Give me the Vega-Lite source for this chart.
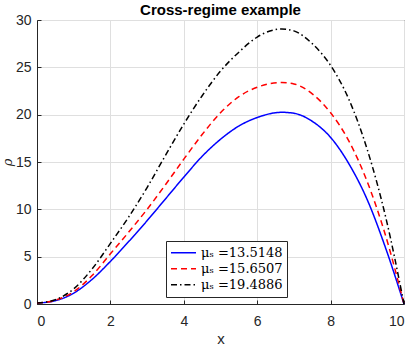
{
  "$schema": "https://vega.github.io/schema/vega-lite/v6.json",
  "width": 367,
  "height": 284,
  "autosize": {"type": "none"},
  "padding": {"left": 37, "top": 20, "right": 8, "bottom": 41},
  "background": "white",
  "title": {"text": "Cross-regime example", "font": "Liberation Sans", "fontSize": 15, "fontWeight": "bold", "color": "#000000", "offset": 5, "dy": 10, "anchor": "middle"},
  "config": {
    "view": {"stroke": "#262626", "strokeWidth": 1},
    "axis": {
      "labelFont": "Liberation Sans", "labelFontSize": 14, "labelColor": "#262626",
      "domainColor": "#262626", "tickColor": "#262626", "tickSize": -4,
      "gridColor": "#dfdfdf", "gridWidth": 1,
      "titleFont": "Liberation Sans", "titleFontSize": 15, "titleFontWeight": "normal", "titleColor": "#262626"
    },
    "legend": {
      "orient": "none", "legendX": 129, "legendY": 221,
      "fillColor": "white", "strokeColor": "#262626", "padding": 4,
      "labelFont": "DejaVu Serif", "labelFontSize": 13, "labelColor": "#000000",
      "symbolType": "stroke", "symbolSize": 625, "symbolStrokeWidth": 1.5, "rowPadding": 0,
      "clipHeight": 15.5,
      "title": null
    }
  },
  "data": {"values": [
    {"x": 0, "y": 0.1, "s": "μₛ =13.5148"},
    {"x": 0.5, "y": 0.35, "s": "μₛ =13.5148"},
    {"x": 1, "y": 1.15, "s": "μₛ =13.5148"},
    {"x": 1.5, "y": 2.6, "s": "μₛ =13.5148"},
    {"x": 2, "y": 4.5, "s": "μₛ =13.5148"},
    {"x": 2.5, "y": 6.6, "s": "μₛ =13.5148"},
    {"x": 3, "y": 8.8, "s": "μₛ =13.5148"},
    {"x": 3.5, "y": 11.1, "s": "μₛ =13.5148"},
    {"x": 4, "y": 13.4, "s": "μₛ =13.5148"},
    {"x": 4.5, "y": 15.6, "s": "μₛ =13.5148"},
    {"x": 5, "y": 17.4, "s": "μₛ =13.5148"},
    {"x": 5.5, "y": 18.8, "s": "μₛ =13.5148"},
    {"x": 6, "y": 19.7, "s": "μₛ =13.5148"},
    {"x": 6.67, "y": 20.25, "s": "μₛ =13.5148"},
    {"x": 7, "y": 20.15, "s": "μₛ =13.5148"},
    {"x": 7.5, "y": 19.3, "s": "μₛ =13.5148"},
    {"x": 8, "y": 17.6, "s": "μₛ =13.5148"},
    {"x": 8.5, "y": 14.8, "s": "μₛ =13.5148"},
    {"x": 9, "y": 11.0, "s": "μₛ =13.5148"},
    {"x": 9.5, "y": 5.9, "s": "μₛ =13.5148"},
    {"x": 10, "y": 0, "s": "μₛ =13.5148"},
    {"x": 0, "y": 0.1, "s": "μₛ =15.6507"},
    {"x": 0.5, "y": 0.4, "s": "μₛ =15.6507"},
    {"x": 1, "y": 1.3, "s": "μₛ =15.6507"},
    {"x": 1.5, "y": 3.0, "s": "μₛ =15.6507"},
    {"x": 2, "y": 5.3, "s": "μₛ =15.6507"},
    {"x": 2.5, "y": 7.6, "s": "μₛ =15.6507"},
    {"x": 3, "y": 10.0, "s": "μₛ =15.6507"},
    {"x": 3.5, "y": 12.6, "s": "μₛ =15.6507"},
    {"x": 4, "y": 15.3, "s": "μₛ =15.6507"},
    {"x": 4.5, "y": 17.9, "s": "μₛ =15.6507"},
    {"x": 5, "y": 20.2, "s": "μₛ =15.6507"},
    {"x": 5.5, "y": 21.9, "s": "μₛ =15.6507"},
    {"x": 6, "y": 22.9, "s": "μₛ =15.6507"},
    {"x": 6.67, "y": 23.4, "s": "μₛ =15.6507"},
    {"x": 7, "y": 23.25, "s": "μₛ =15.6507"},
    {"x": 7.5, "y": 22.2, "s": "μₛ =15.6507"},
    {"x": 8, "y": 20.2, "s": "μₛ =15.6507"},
    {"x": 8.5, "y": 17.2, "s": "μₛ =15.6507"},
    {"x": 9, "y": 12.9, "s": "μₛ =15.6507"},
    {"x": 9.5, "y": 7.2, "s": "μₛ =15.6507"},
    {"x": 10, "y": 0, "s": "μₛ =15.6507"},
    {"x": 0, "y": 0.1, "s": "μₛ =19.4886"},
    {"x": 0.5, "y": 0.45, "s": "μₛ =19.4886"},
    {"x": 1, "y": 1.6, "s": "μₛ =19.4886"},
    {"x": 1.5, "y": 3.7, "s": "μₛ =19.4886"},
    {"x": 2, "y": 6.4, "s": "μₛ =19.4886"},
    {"x": 2.5, "y": 9.2, "s": "μₛ =19.4886"},
    {"x": 3, "y": 12.3, "s": "μₛ =19.4886"},
    {"x": 3.5, "y": 15.7, "s": "μₛ =19.4886"},
    {"x": 4, "y": 19.0, "s": "μₛ =19.4886"},
    {"x": 4.5, "y": 22.0, "s": "μₛ =19.4886"},
    {"x": 5, "y": 24.6, "s": "μₛ =19.4886"},
    {"x": 5.5, "y": 26.6, "s": "μₛ =19.4886"},
    {"x": 6, "y": 28.2, "s": "μₛ =19.4886"},
    {"x": 6.67, "y": 29.05, "s": "μₛ =19.4886"},
    {"x": 7, "y": 28.85, "s": "μₛ =19.4886"},
    {"x": 7.5, "y": 27.5, "s": "μₛ =19.4886"},
    {"x": 8, "y": 25.2, "s": "μₛ =19.4886"},
    {"x": 8.5, "y": 21.6, "s": "μₛ =19.4886"},
    {"x": 9, "y": 16.3, "s": "μₛ =19.4886"},
    {"x": 9.5, "y": 9.2, "s": "μₛ =19.4886"},
    {"x": 10, "y": 0, "s": "μₛ =19.4886"}
  ]},
  "mark": {"type": "line", "interpolate": "monotone", "strokeWidth": 1.5},
  "encoding": {
    "x": {"field": "x", "type": "quantitative", "scale": {"domain": [0, 10], "nice": false},
      "axis": {"title": "x", "values": [0, 2, 4, 6, 8, 10], "labelPadding": 14, "titleBaseline": "alphabetic", "titleY": 39}},
    "y": {"field": "y", "type": "quantitative", "scale": {"domain": [0, 30], "nice": false},
      "axis": {"title": "ρ", "values": [0, 5, 10, 15, 20, 25, 30], "labelPadding": 10, "titleFont": "DejaVu Serif", "titleFontStyle": "italic", "titleFontSize": 13, "titleX": -23}},
    "color": {"field": "s", "type": "nominal", "scale": {"range": ["#0000ff", "#ff0000", "#000000"]}},
    "strokeDash": {"field": "s", "type": "nominal", "scale": {"range": [[1, 0], [6, 4], [6, 3, 1.5, 3]]}}
  }
}
